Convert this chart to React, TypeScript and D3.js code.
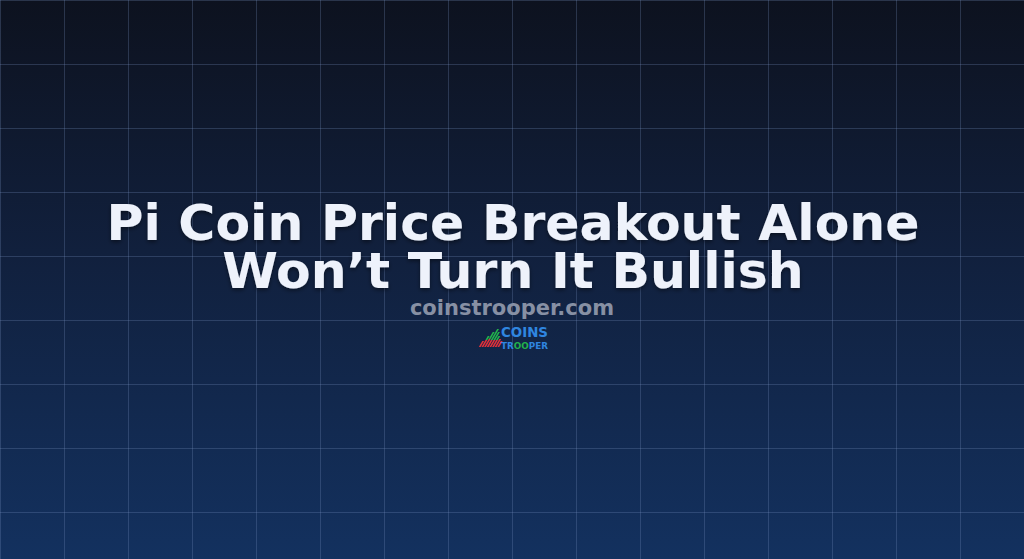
import React from 'react';
import * as d3 from 'd3';

const width = 1024;
const height = 559;
const gridStep = 64;

const titleLines = ['Pi Coin Price Breakout Alone', 'Won\u2019t Turn It Bullish'];
const siteName = 'coinstrooper.com';
const logoTop = 'COINS';
const logoBottom = ['TR', 'OO', 'PER'];

// logo icon strokes: [green part, red part]
const logoBars: [number, number][] = [
  [0, 6], [4, 7], [7, 8], [11, 7], [8, 7], [4, 7], [0, 8], [0, 6],
];

export default function App() {
  const xLines = d3.range(0, width + 1, gridStep);
  const yLines = d3.range(0, height + 1, gridStep);
  const bx = d3.scaleBand().domain(d3.range(logoBars.length).map(String)).range([478, 500]).padding(0.3);

  return (
    <svg width={width} height={height} viewBox={`0 0 ${width} ${height}`}
      style={{ position: 'absolute', left: 0, top: 0, display: 'block' }}>
      <defs>
        <linearGradient id="bg" x1="0" y1="0" x2="0" y2="1">
          <stop offset="0%" stopColor="#0d121f" />
          <stop offset="45%" stopColor="#11203d" />
          <stop offset="100%" stopColor="#13315f" />
        </linearGradient>
        <filter id="shadow" x="-10%" y="-30%" width="120%" height="160%">
          <feDropShadow dx="0" dy="2" stdDeviation="2" floodColor="#000" floodOpacity="0.45" />
        </filter>
      </defs>
      <rect width={width} height={height} fill="url(#bg)" />
      <g stroke="#7890bf" strokeOpacity={0.28} strokeWidth={1}>
        {xLines.map(x => <line key={'x' + x} x1={x + 0.5} x2={x + 0.5} y1={0} y2={height} />)}
        {yLines.map(y => <line key={'y' + y} x1={0} x2={width} y1={y + 0.5} y2={y + 0.5} />)}
      </g>
      <g fontFamily="'DejaVu Sans', sans-serif" fontWeight="bold" textAnchor="middle" filter="url(#shadow)">
        {titleLines.map((t, i) => (
          <text key={t} x={width / 2 + 1} y={240 + i * 48} fontSize={50.5} fill="#eef2fb">{t}</text>
        ))}
      </g>
      <text x={width / 2} y={315} fontFamily="'DejaVu Sans', sans-serif" fontWeight="bold" fontSize={21}
        textAnchor="middle" fill="#8790a4">{siteName}</text>
      <g>
        {logoBars.map(([g, r], i) => {
          const x = bx(String(i)) as number;
          const base = 347;
          const w = bx.bandwidth();
          const yTop = base - r - g;
          return (
            <g key={i} transform={`translate(${x + w / 2},${base}) skewX(-30) translate(${-x - w / 2},${-base})`}>
              {g > 0 && <rect x={x} y={yTop} width={w} height={g} fill="#22b24c" />}
              <rect x={x} y={yTop + g} width={w} height={r} fill="#e0303a" />
            </g>
          );
        })}
        <text x={501} y={337} fontFamily="'DejaVu Sans', sans-serif" fontWeight="bold" fontSize={14}
          textLength={47} lengthAdjust="spacingAndGlyphs" fill="#2f86e0">{logoTop}</text>
        <text x={501} y={348.5} fontFamily="'DejaVu Sans', sans-serif" fontWeight="bold" fontSize={9.5}
          textLength={47} lengthAdjust="spacingAndGlyphs" fill="#2f86e0">
          <tspan>{logoBottom[0]}</tspan>
          <tspan fill="#22b24c">{logoBottom[1]}</tspan>
          <tspan>{logoBottom[2]}</tspan>
        </text>
      </g>
    </svg>
  );
}
